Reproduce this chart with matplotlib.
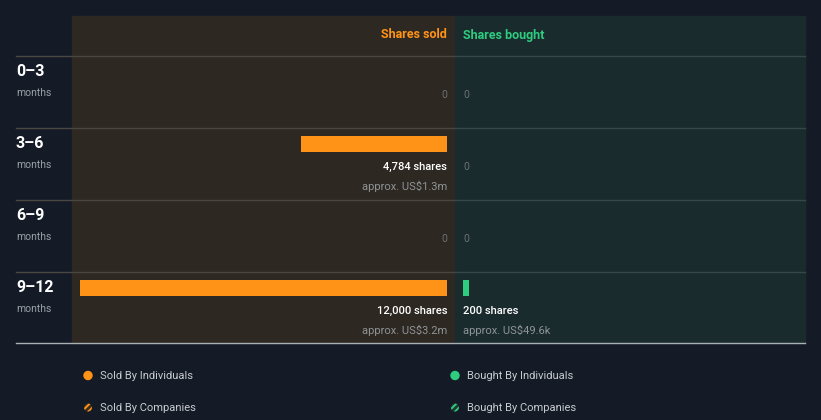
import matplotlib
matplotlib.use("Agg")
import matplotlib.pyplot as plt
from matplotlib.patches import Rectangle, Circle

plt.rcParams['font.family'] = ['Roboto', 'DejaVu Sans']
plt.rcParams['hatch.linewidth'] = 1.4

# -----------------------------
# data
# -----------------------------
periods = ["0\u20133", "3\u20136", "6\u20139", "9\u201312"]
sold_shares = [0, 4784, 0, 12000]
sold_value = ["", "approx. US$1.3m", "", "approx. US$3.2m"]
bought_shares = [0, 0, 0, 200]
bought_value = ["", "", "", "approx. US$49.6k"]
legend_sold = ["Sold By Individuals", "Sold By Companies"]
legend_bought = ["Bought By Individuals", "Bought By Companies"]

BG = "#151b26"
SOLD_BG = "#2d2822"
BOUGHT_BG = "#1a2b2e"
ORANGE = "#ff9317"
GREEN = "#2ecc7f"
W, H = 821, 420

fig = plt.figure(figsize=(W / 100, H / 100), dpi=100, facecolor=BG)

# background axes in pixel units for layout
bg = fig.add_axes([0, 0, 1, 1])
bg.set_xlim(0, W)
bg.set_ylim(H, 0)
bg.axis("off")
bg.set_facecolor(BG)

bg.add_patch(Rectangle((72, 16), 383, 327, color=SOLD_BG, zorder=0))
bg.add_patch(Rectangle((455, 16), 350, 327, color=BOUGHT_BG, zorder=0))
for i in range(4):
    y = 56 + 72 * i
    bg.plot([16, 455], [y, y], color="#4a4640", lw=1, zorder=1)
    bg.plot([455, 805], [y, y], color="#34484a", lw=1, zorder=1)
    bg.text(16, y + 15.5, periods[i], color="white", fontsize=11.5,
            fontweight="bold", va="center", ha="left")
    bg.text(16, y + 37, "months", color="#9aa0a6", fontsize=7.5,
            va="center", ha="left")
bg.plot([16, 805], [343, 343], color="#a9b1b5", lw=1, zorder=1)

bg.text(447, 35, "Shares sold", color=ORANGE, fontsize=9,
        fontweight="bold", ha="right", va="center")
bg.text(463, 35, "Shares bought", color=GREEN, fontsize=9,
        fontweight="bold", ha="left", va="center")

# legend
for lab, col, x in [(legend_sold[0], ORANGE, 88), (legend_bought[0], GREEN, 455)]:
    bg.add_patch(Circle((x, 375.5), 4, color=col, zorder=2))
    bg.text(x + 12, 376, lab, color="#c8ccd0", fontsize=8, va="center")
for lab, col, x in [(legend_sold[1], ORANGE, 88), (legend_bought[1], GREEN, 455)]:
    bg.add_patch(Circle((x, 407.5), 4, facecolor="#3a2f22" if col == ORANGE else "#1f3a30",
                        edgecolor=col, hatch="/////", lw=0, zorder=2))
    bg.text(x + 12, 408, lab, color="#c8ccd0", fontsize=8, va="center")

# -----------------------------
# bar axes (shares units)
# -----------------------------
spp = 12000 / 367.0  # shares per pixel
ylim = (4 - 1 / 72, -40 / 72)
bar_off = 8 / 72 + 8 / 72
bar_h = 16 / 72

ax_s = fig.add_axes([72 / W, (H - 343) / H, 383 / W, 327 / H])
ax_s.set_xlim(12000 + 8 * spp, -8 * spp)
ax_s.set_ylim(*ylim)
ax_s.axis("off")
ax_b = fig.add_axes([455 / W, (H - 343) / H, 350 / W, 327 / H])
ax_b.set_xlim(-8 * spp, -8 * spp + 350 * spp)
ax_b.set_ylim(*ylim)
ax_b.axis("off")

rows = range(len(periods))
ax_s.barh([r + bar_off for r in rows], sold_shares, height=bar_h, color=ORANGE)
ax_b.barh([r + bar_off for r in rows], bought_shares, height=bar_h, color=GREEN)

for r in rows:
    for ax, val, money, ha in [(ax_s, sold_shares[r], sold_value[r], "right"),
                               (ax_b, bought_shares[r], bought_value[r], "left")]:
        if val == 0:
            ax.text(0, r + 39 / 72, "0", color="#6b7075", fontsize=7.5,
                    ha=ha, va="center")
        else:
            ax.text(0, r + 39 / 72, f"{val:,} shares", color="white",
                    fontsize=8, fontweight="medium", ha=ha, va="center")
            ax.text(0, r + 58 / 72, money, color="#8f9498", fontsize=8,
                    ha=ha, va="center")

fig.savefig("out.png", dpi=100, facecolor=BG)
